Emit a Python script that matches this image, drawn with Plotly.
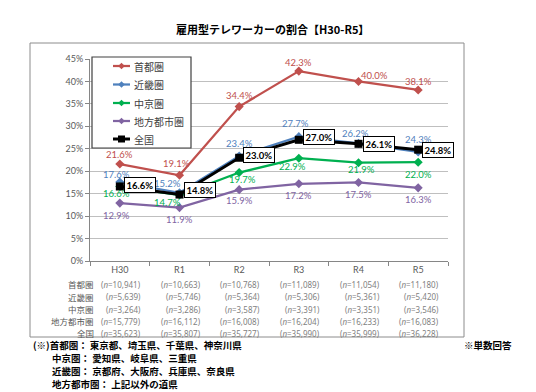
import plotly.graph_objects as go

# ---------------- data ----------------
categories = ["H30", "R1", "R2", "R3", "R4", "R5"]
series_names = ["首都圏", "近畿圏", "中京圏", "地方都市圏", "全国"]
shuto = [21.6, 19.1, 34.4, 42.3, 40.0, 38.1]
kinki = [17.6, 15.2, 23.4, 27.7, 26.2, 24.3]
chukyo = [16.6, 14.7, 19.7, 22.9, 21.9, 22.0]
chiho = [12.9, 11.9, 15.9, 17.2, 17.5, 16.3]
zenkoku = [16.6, 14.8, 23.0, 27.0, 26.1, 24.8]
yticks = [0, 5, 10, 15, 20, 25, 30, 35, 40, 45]
ytick_labels = ["0%", "5%", "10%", "15%", "20%", "25%", "30%", "35%", "40%", "45%"]

n_shuto = ["10,941", "10,663", "10,768", "11,089", "11,054", "11,180"]
n_kinki = ["5,639", "5,746", "5,364", "5,306", "5,361", "5,420"]
n_chukyo = ["3,264", "3,286", "3,587", "3,391", "3,351", "3,546"]
n_chiho = ["15,779", "16,112", "16,008", "16,204", "16,233", "16,083"]
n_zenkoku = ["35,623", "35,807", "35,727", "35,990", "35,999", "36,228"]

title_text = "雇用型テレワーカーの割合【H30-R5】"
notes = ["(※)首都圏： 東京都、埼玉県、千葉県、神奈川県",
         "中京圏： 愛知県、岐阜県、三重県",
         "近畿圏： 京都府、大阪府、兵庫県、奈良県",
         "地方都市圏： 上記以外の道県"]
note_right = "※単数回答"

# ---------------- styles ----------------
colors = ["#C0504D", "#4F81BD", "#00B050", "#8064A2", "#000000"]
W, H = 536, 392
L, R, T, B = 90, 448, 59, 261
NUMFONT = "Lato, 'Liberation Sans', sans-serif"
JPFONT = "'Noto Sans CJK JP', sans-serif"


def px(x):
    return (x - L) / (R - L)


def py(y):
    return (B - y) / (B - T)


all_series = [shuto, kinki, chukyo, chiho, zenkoku]

fig = go.Figure()
for i, (name, vals) in enumerate(zip(series_names, all_series)):
    black = i == 4
    fig.add_trace(go.Scatter(
        x=categories, y=vals, name=name, mode="lines+markers",
        line=dict(color=colors[i], width=3 if black else 2.25),
        marker=dict(symbol="square" if black else "diamond",
                    size=8 if black else 7, color=colors[i]),
        showlegend=False, cliponaxis=False, hoverinfo="skip"))

annotations = []
shapes = []

# data label offsets (pixels) per series
offs = [
    ([0, -3, 0, 0, 16, 0], [10, 12, 11, 9, 6, 8]),
    ([-3, -12, 0, -3, -3, 0], [8, 9, 12, 13, 10, 12]),
    ([-3, -12, 3, -6, 3, 0], [-7, -7, -7, -8, -7, -12]),
    ([-3, 0, 0, 0, 0, 0], [-12, -12, -11, -12, -12, -12]),
]
for s in range(4):
    dxs, dys = offs[s]
    for j, v in enumerate(all_series[s]):
        annotations.append(dict(
            x=categories[j], y=v, xref="x", yref="y",
            text=f"{v:.1f}%", showarrow=False,
            xshift=dxs[j], yshift=dys[j],
            font=dict(family=NUMFONT, size=9.5, color=colors[s])))

zy = [1, 5, 3, 3, 0, 0]
for j, v in enumerate(zenkoku):
    annotations.append(dict(
        x=categories[j], y=v, xref="x", yref="y",
        text=f"<b>{v:.1f}%</b>", showarrow=False,
        xanchor="left", xshift=4, yshift=zy[j],
        bgcolor="white", bordercolor="#000000", borderwidth=1, borderpad=1.5,
        font=dict(family=NUMFONT, size=9.5, color="#000000")))

# title
annotations.append(dict(
    x=px(272), y=py(29), xref="paper", yref="paper", text=f"<b>{title_text}</b>",
    showarrow=False, xanchor="center", yanchor="middle",
    font=dict(family=JPFONT, size=11, color="#000000")))

# table of n
rows_y = [284, 296.5, 309, 321, 333]
n_rows = [n_shuto, n_kinki, n_chukyo, n_chiho, n_zenkoku]
for r, (name, vals) in enumerate(zip(series_names, n_rows)):
    annotations.append(dict(
        x=px(96), y=py(rows_y[r]), xref="paper", yref="paper", text=name,
        showarrow=False, xanchor="right", yanchor="middle",
        font=dict(family=JPFONT, size=8.5, color="#595959")))
    for j, v in enumerate(vals):
        annotations.append(dict(
            x=j, y=py(rows_y[r]), xref="x", yref="paper",
            text=f"(<i>n</i>={v})", showarrow=False,
            xanchor="right", yanchor="middle", xshift=23,
            font=dict(family="'Noto Sans', sans-serif", size=8, color="#7F7F7F")))

# footnotes
note_pos = [(32, 344.5), (51, 357.5), (51, 370.5), (51, 383.5)]
for t, (nx, ny) in zip(notes, note_pos):
    annotations.append(dict(
        x=px(nx), y=py(ny), xref="paper", yref="paper", text=f"<b>{t}</b>",
        showarrow=False, xanchor="left", yanchor="middle", borderpad=0,
        font=dict(family=JPFONT, size=9.5, color="#000000")))
annotations.append(dict(
    x=px(463), y=py(344.5), xref="paper", yref="paper", text=f"<b>{note_right}</b>",
    showarrow=False, xanchor="left", yanchor="middle", borderpad=0,
    font=dict(family=JPFONT, size=9.5, color="#000000")))

# outer frame
shapes.append(dict(type="rect", xref="paper", yref="paper",
                   x0=px(30), x1=px(464), y0=py(43), y1=py(337),
                   line=dict(color="#8C8C8C", width=1), layer="below"))

# manual legend
shapes.append(dict(type="rect", xref="paper", yref="paper",
                   x0=px(92), x1=px(191), y0=py(57), y1=py(148),
                   line=dict(color="#404040", width=1.2), fillcolor="white",
                   layer="above"))
leg_y = [66, 84.5, 103, 121, 139]
for i, name in enumerate(series_names):
    yy = leg_y[i]
    shapes.append(dict(type="line", xref="paper", yref="paper",
                       x0=px(113), x1=px(130), y0=py(yy), y1=py(yy),
                       line=dict(color=colors[i], width=3 if i == 4 else 2.25),
                       layer="above"))
    cx = 121.5
    if i == 4:
        shapes.append(dict(type="rect", xref="paper", yref="paper",
                           x0=px(cx - 3.5), x1=px(cx + 3.5), y0=py(yy - 3.5), y1=py(yy + 3.5),
                           line=dict(width=0), fillcolor=colors[i], layer="above"))
    else:
        d = 3.3
        path = (f"M {px(cx)},{py(yy - d)} L {px(cx + d)},{py(yy)} "
                f"L {px(cx)},{py(yy + d)} L {px(cx - d)},{py(yy)} Z")
        shapes.append(dict(type="path", xref="paper", yref="paper", path=path,
                           line=dict(width=0), fillcolor=colors[i], layer="above"))
    annotations.append(dict(
        x=px(132), y=py(yy), xref="paper", yref="paper", text=name,
        showarrow=False, xanchor="left", yanchor="middle",
        font=dict(family=JPFONT, size=10, color="#404040")))

fig.update_layout(
    width=W, height=H,
    margin=dict(l=L, r=W - R, t=T, b=H - B, pad=0),
    paper_bgcolor="white", plot_bgcolor="white",
    showlegend=False, hovermode=False,
    annotations=annotations, shapes=shapes,
    xaxis=dict(type="category", categoryorder="array", categoryarray=categories,
               range=[-0.5, 5.5], showgrid=False, showline=True, automargin=False,
               linecolor="#868686", linewidth=1, ticks="outside", ticklen=4,
               tickcolor="#868686", tickson="boundaries", zeroline=False,
               tickfont=dict(family=NUMFONT, size=9, color="#595959")),
    yaxis=dict(range=[0, 45], tickmode="array", tickvals=yticks, ticktext=ytick_labels,
               automargin=False,
               showgrid=True, gridcolor="#BFBFBF", gridwidth=1,
               showline=True, linecolor="#868686", linewidth=1,
               ticks="outside", ticklen=4, tickcolor="#868686", zeroline=False,
               tickfont=dict(family=NUMFONT, size=9, color="#595959")),
)

fig.write_html("out.html", config={"displayModeBar": False},
               post_script="document.body.style.margin='0';document.body.style.overflow='hidden';")
